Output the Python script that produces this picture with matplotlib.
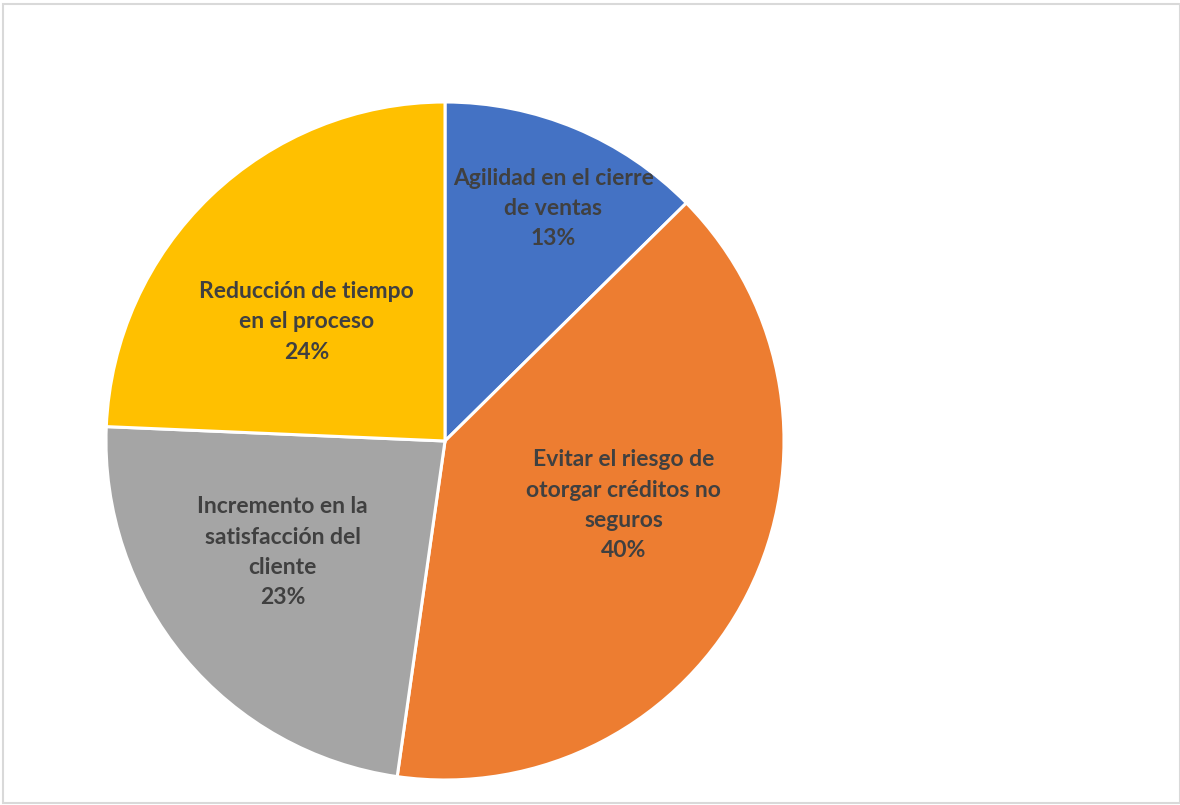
import matplotlib.pyplot as plt
from matplotlib.patches import Rectangle

# Survey answers (counts), drawn clockwise from 12 o'clock
categories = ["Agilidad en el cierre\nde ventas",
              "Evitar el riesgo de\notorgar créditos no\nseguros",
              "Incremento en la\nsatisfacción del\ncliente",
              "Reducción de tiempo\nen el proceso"]
values = [14, 44, 26, 27]
colors = ["#4472C4", "#ED7D31", "#A5A5A5", "#FFC000"]

# Label anchor points inside each slice (pie radius = 1)
label_xy = [(0.32, 0.686), (0.527, -0.19), (-0.479, -0.328), (-0.408, 0.352)]

fig = plt.figure(figsize=(11.8, 8.05), dpi=100)
fig.patch.set_facecolor("white")

# thin frame around the chart area
fig.add_artist(Rectangle((3 / 1180, 2 / 805), 1 - 3 / 1180, 1 - 6 / 805,
                         transform=fig.transFigure, fill=False,
                         edgecolor="#D9D9D9", linewidth=1.5))

cx, cy, r = 445, 805 - 441, 339
ax = fig.add_axes([(cx - r) / 1180, (cy - r) / 805, 2 * r / 1180, 2 * r / 805])
ax.pie(values, colors=colors, startangle=90, counterclock=False,
       wedgeprops=dict(edgecolor="white", linewidth=2.2))
ax.set_xlim(-1, 1)
ax.set_ylim(-1, 1)
ax.set_aspect("equal")
ax.axis("off")

total = sum(values)
for cat, v, (x, y) in zip(categories, values, label_xy):
    ax.text(x, y, f"{cat}\n{round(100 * v / total)}%", ha="center", va="center",
            fontsize=16.5, fontweight="bold", color="#404040",
            family=["Lato", "DejaVu Sans"], linespacing=1.55)

fig.savefig("out.png", dpi=100)
